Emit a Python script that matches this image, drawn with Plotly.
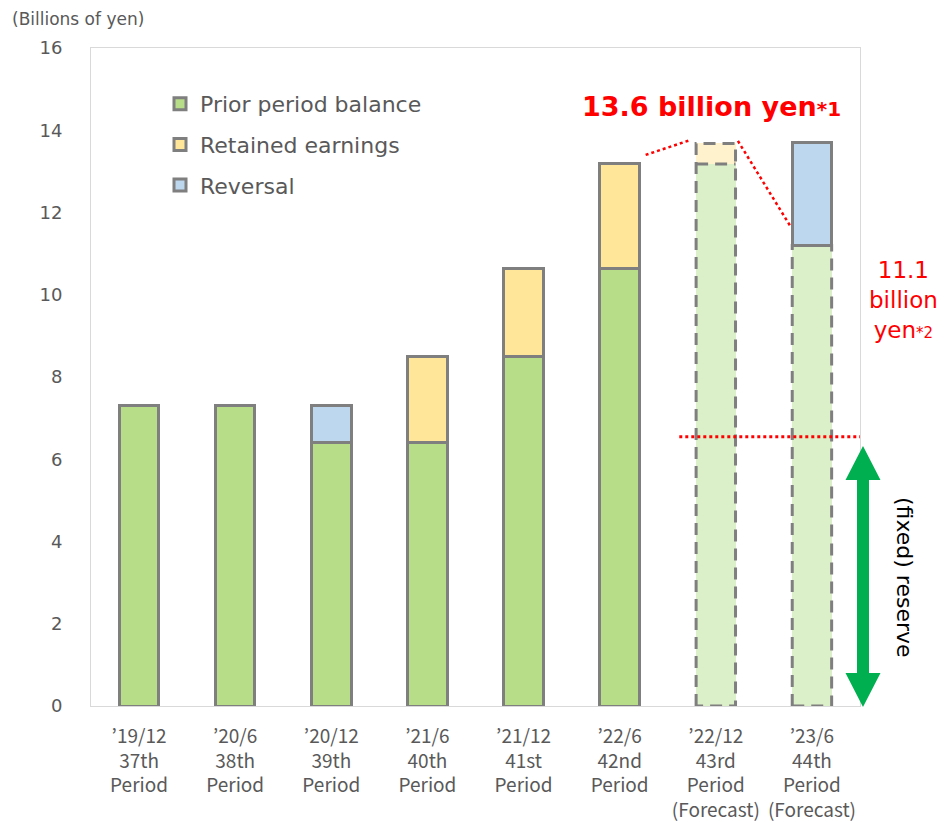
import plotly.graph_objects as go

# ---------------- data ----------------
periods = ["’19/12<br>37th<br>Period", "’20/6<br>38th<br>Period", "’20/12<br>39th<br>Period",
           "’21/6<br>40th<br>Period", "’21/12<br>41st<br>Period", "’22/6<br>42nd<br>Period",
           "’22/12<br>43rd<br>Period<br>(Forecast)", "’23/6<br>44th<br>Period<br>(Forecast)"]
prior_balance = [7.3, 7.3, 6.4, 6.4, 8.5, 10.65, 13.18, 11.2]
retained_earnings = [None, None, None, 2.1, 2.15, 2.53, 0.5, None]
reversal = [None, None, 0.9, None, None, None, None, 2.5]
is_forecast = [False, False, False, False, False, False, True, True]
fixed_reserve_level = 6.55
y_ticks = [0, 2, 4, 6, 8, 10, 12, 14, 16]

# ---------------- style ----------------
GREEN, GREEN_F = "#B7DD88", "#DBEFC8"
YELLOW, YELLOW_F = "#FFE699", "#FFF2CC"
BLUE = "#BDD7EE"
EDGE = "#7F7F7F"
TXT = "#595959"
BW = 0.41
LW = 3

# page body has an 8px margin; layout compensates so plot area sits at 91..860 x 48..706
OFF = 8
FIG_W, FIG_H = 939, 814
PL, PR, PT, PB = 91, 860, 48, 706

x = list(range(len(periods)))

def colors(base, fc):
    return [fc if f else base for f in is_forecast]

def widths(vals):
    return [0 if f else LW for v, f in zip(vals, is_forecast)]

fig = go.Figure()
fig.add_bar(x=x, y=prior_balance, name="Prior period balance", width=BW,
            marker=dict(color=colors(GREEN, GREEN_F), line=dict(color=EDGE, width=widths(prior_balance))),
            legendgroup="a")
fig.add_bar(x=x, y=retained_earnings, name="Retained earnings", width=BW,
            marker=dict(color=colors(YELLOW, YELLOW_F), line=dict(color=EDGE, width=widths(retained_earnings))),
            legendgroup="b")
fig.add_bar(x=x, y=reversal, name="Reversal", width=BW,
            marker=dict(color=BLUE, line=dict(color=EDGE, width=LW)),
            legendgroup="c")

# dashed outlines for forecast bars (from data)
for i, f in enumerate(is_forecast):
    if not f:
        continue
    p = prior_balance[i]
    r = retained_earnings[i] or 0
    top = p + r
    l, rr = i - BW / 2, i + BW / 2
    xs = [l, l, rr, rr, l]
    ys = [0, top, top, 0, 0]
    if r:
        xs += [None, l, rr]
        ys += [None, p, p]
    fig.add_scatter(x=xs, y=ys, mode="lines", showlegend=False, hoverinfo="skip",
                    line=dict(color=EDGE, width=LW, dash="12px,7px"), cliponaxis=False)

# ---------------- decorations ----------------
shapes = []
shapes.append(dict(type="line", xref="x", yref="y", x0=5.62, x1=7.5,
                   y0=fixed_reserve_level, y1=fixed_reserve_level,
                   line=dict(color="#FF0000", width=3, dash="dot")))
shapes.append(dict(type="line", xref="x", yref="y", x0=5.27, y0=13.4, x1=5.72, y1=13.75,
                   line=dict(color="#FF0000", width=2.5, dash="dot")))
shapes.append(dict(type="line", xref="x", yref="y", x0=6.23, y0=13.74, x1=6.78, y1=11.65,
                   line=dict(color="#FF0000", width=2.5, dash="dot")))

PW, PH = float(PR - PL), float(PB - PT)
def px(xp):
    return (xp - PL) / PW
def py(yp):
    return (PB - yp) / PH
cx, top_y, bot_y = 863, 446, 707
hw, sw, hh = 17.5, 6, 34
pts = [(cx, top_y), (cx + hw, top_y + hh), (cx + sw, top_y + hh), (cx + sw, bot_y - hh),
       (cx + hw, bot_y - hh), (cx, bot_y), (cx - hw, bot_y - hh), (cx - sw, bot_y - hh),
       (cx - sw, top_y + hh), (cx - hw, top_y + hh)]
path = "M " + " L ".join(f"{px(a):.5f},{py(b):.5f}" for a, b in pts) + " Z"
shapes.append(dict(type="path", xref="paper", yref="paper", path=path,
                   fillcolor="#00B050", line=dict(width=0)))

annotations = [
    dict(text="(Billions of yen)", xref="paper", yref="paper", x=px(11), y=py(19),
         xanchor="left", yanchor="middle", showarrow=False, borderpad=0,
         font=dict(family="DejaVu Sans", size=17, color=TXT)),
    dict(text="<b>13.6 billion yen</b><span style='font-size:20px'><b>*1</b></span>",
         xref="paper", yref="paper", x=px(711), y=py(106), xanchor="center", yanchor="middle",
         showarrow=False, font=dict(family="DejaVu Sans", size=27, color="#FF0000")),
    dict(text="11.1<br>billion<br>yen<span style='font-size:15px'>*2</span>",
         xref="paper", yref="paper", x=px(903), y=py(300), xanchor="center", yanchor="middle",
         showarrow=False, font=dict(family="DejaVu Sans", size=23, color="#FF0000")),
    dict(text="(fixed) reserve", xref="paper", yref="paper", x=px(905), y=py(577),
         xanchor="center", yanchor="middle", textangle=90, showarrow=False,
         font=dict(family="DejaVu Sans", size=22, color="#000000")),
]

fig.update_layout(
    width=FIG_W, height=FIG_H,
    barmode="stack",
    plot_bgcolor="white", paper_bgcolor="white",
    margin=dict(l=PL - OFF, r=FIG_W + OFF - PR, t=PT - OFF, b=FIG_H + OFF - PB, autoexpand=False),
    shapes=shapes, annotations=annotations,
    showlegend=True,
    legend=dict(x=px(160), y=py(83), xanchor="left", yanchor="top", traceorder="grouped",
                tracegroupgap=9, bgcolor="rgba(0,0,0,0)",
                font=dict(family="DejaVu Sans", size=22, color=TXT)),
    xaxis=dict(range=[-0.5, 7.5], tickvals=x, ticktext=periods, showgrid=False, zeroline=False,
               showline=True, mirror=True, linecolor="#D9D9D9", linewidth=1, ticks="",
               ticklabelstandoff=13, automargin=False,
               tickfont=dict(family="Noto Sans CJK JP", size=19, color=TXT)),
    yaxis=dict(range=[0, 16], tickvals=y_ticks, showgrid=False, zeroline=False,
               showline=True, mirror=True, linecolor="#D9D9D9", linewidth=1, ticks="",
               ticklabelstandoff=24, automargin=False,
               tickfont=dict(family="DejaVu Sans", size=18, color=TXT)),
)

fig.write_html("out.html")
